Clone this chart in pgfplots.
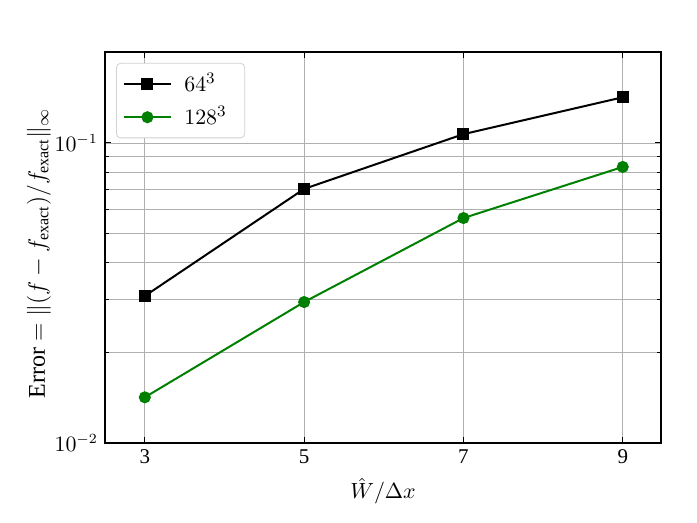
\documentclass[border=0pt]{standalone}
\usepackage{fontspec}
\setmainfont{Liberation Serif}
\usepackage{pgfplots}
\pgfplotsset{compat=1.18}
\definecolor{mplgreen}{RGB}{0,128,0}
\definecolor{gridgray}{RGB}{176,176,176}
\begin{document}
\begin{tikzpicture}
\begin{axis}[
    width=278pt, height=195.5pt, scale only axis,
    ymode=log,
    xmin=2.5, xmax=9.48, ymin=0.01, ymax=0.201,
    xtick={3,5,7,9},
    ytick={0.01,0.1}, yticklabels={$10^{-2}$,$10^{-1}$},
    minor ytick={0.02,0.03,0.04,0.05,0.06,0.07,0.08,0.09,0.2},
    tick align=inside, tick pos=both,
    major tick length=3pt, minor tick length=1.8pt,
    every tick/.style={black, line width=0.5pt},
    grid=both,
    major grid style={gridgray, line width=0.4pt},
    minor grid style={gridgray, line width=0.4pt},
    axis line style={line width=0.6pt},
    /pgf/number format/assume math mode=true,
    tick label style={font=\fontsize{10.5}{12}\selectfont},
    xlabel style={font=\fontsize{11}{13}\selectfont},
    ylabel style={font=\fontsize{12}{14}\selectfont, yshift=-5pt, xshift=-3pt},
    xlabel={$\hat{W}/\Delta x$},
    ylabel={Error $=\|(f-f_{\mathrm{exact}})/f_{\mathrm{exact}}\|_\infty$},
    legend cell align=left,
    legend style={font=\fontsize{11}{13}\selectfont, draw=black!18, rounded corners=2pt,
        at={(0.02,0.972)}, anchor=north west, inner xsep=3pt, inner ysep=2pt, row sep=0pt,
        nodes={inner xsep=6pt, inner ysep=3pt}},
    legend image code/.code={
        \draw[mark repeat=2, mark phase=2] plot coordinates {(0cm,0cm) (0.42cm,0cm) (0.84cm,0cm)};
    },
]
\addplot[black, line width=1pt, mark=square*, mark size=2.5pt] coordinates {
    (3, 0.0309) (5, 0.0703) (7, 0.107) (9, 0.142)
};
\addlegendentry{$64^3$}
\addplot[mplgreen, line width=1pt, mark=*, mark size=2.5pt] coordinates {
    (3, 0.0142) (5, 0.0295) (7, 0.0562) (9, 0.0832)
};
\addlegendentry{$128^3$}
\end{axis}
\path ([shift={(-52.5pt,-40pt)}]current axis.south west) rectangle ([shift={(18pt,26pt)}]current axis.north east);
\end{tikzpicture}
\end{document}
